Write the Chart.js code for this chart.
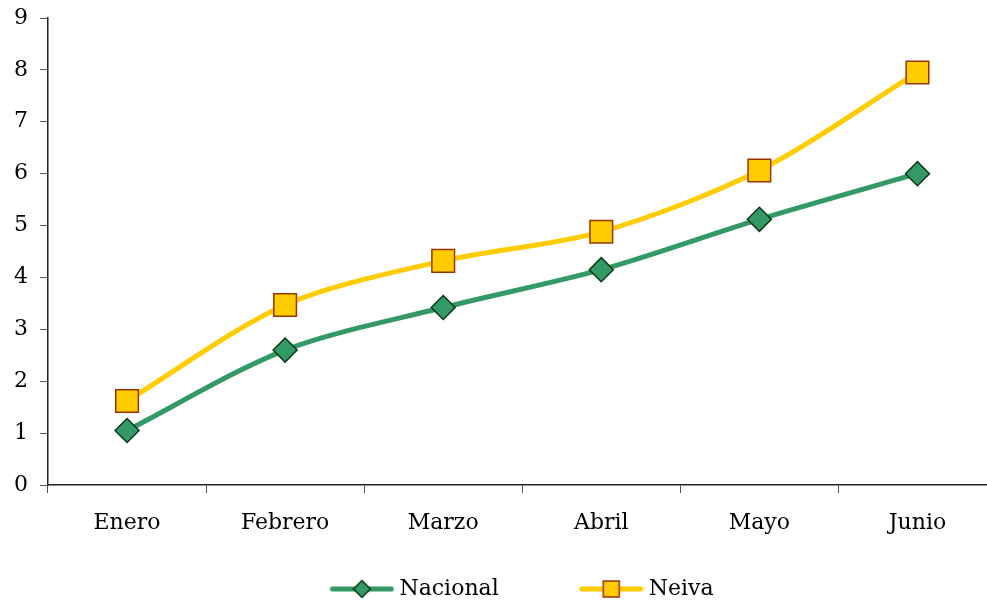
<!DOCTYPE html>
<html>
<head>
<meta charset="utf-8">
<script src="https://cdn.jsdelivr.net/npm/chart.js@4.4.0/dist/chart.umd.min.js"></script>
<style>
  html, body { margin: 0; padding: 0; background: #fff; overflow: hidden; width: 987px; height: 602px; }
  #wrap { position: relative; width: 987px; height: 602px; overflow: hidden; }
  #chart { position: absolute; left: 0; top: 0; }
</style>
</head>
<body>
<div id="wrap"><canvas id="chart" width="1014" height="602"></canvas></div>
<script>
// data
const months = ['Enero', 'Febrero', 'Marzo', 'Abril', 'Mayo', 'Junio'];
const nacional = [1.05, 2.6, 3.42, 4.15, 5.12, 6.0];
const neiva = [1.62, 3.47, 4.32, 4.88, 6.06, 7.95];
const yTicks = [0, 1, 2, 3, 4, 5, 6, 7, 8, 9];

const GREEN = '#339966';
const GREEN_EDGE = '#0b3a16';
const YELLOW = '#ffcc00';
const YELLOW_EDGE = '#993300';
const FONT = "'DejaVu Serif', serif";

// legend swatch: transparent gap on the left, then a line with the marker
const ICON_W = 133;
const ICON_H = 22;
function swatch(color, fill, edge, shape) {
  const c = document.createElement('canvas');
  c.width = ICON_W; c.height = ICON_H;
  const g = c.getContext('2d');
  const x0 = ICON_W - 62, x1 = ICON_W - 3, cx = (x0 + x1) / 2, cy = 11;
  g.strokeStyle = color;
  g.lineWidth = 5;
  g.lineCap = 'round';
  g.beginPath(); g.moveTo(x0, cy); g.lineTo(x1, cy); g.stroke();
  g.fillStyle = fill;
  g.strokeStyle = edge;
  g.lineWidth = 1.5;
  g.beginPath();
  if (shape === 'diamond') {
    g.moveTo(cx, cy - 8.5); g.lineTo(cx + 8.5, cy); g.lineTo(cx, cy + 8.5); g.lineTo(cx - 8.5, cy); g.closePath();
  } else {
    g.rect(cx - 8, cy - 8, 16, 16);
  }
  g.fill(); g.stroke();
  return c;
}

const legendIcons = [
  swatch(GREEN, GREEN, GREEN_EDGE, 'diamond'),
  swatch(YELLOW, YELLOW, YELLOW_EDGE, 'square')
];

new Chart(document.getElementById('chart'), {
  type: 'line',
  data: {
    labels: months,
    datasets: [
      {
        label: 'Nacional',
        data: nacional,
        borderColor: GREEN,
        borderWidth: 5,
        tension: 0.3,
        pointStyle: 'rectRot',
        pointRadius: 12,
        pointHoverRadius: 12,
        pointBackgroundColor: GREEN,
        pointBorderColor: GREEN_EDGE,
        pointBorderWidth: 1.5
      },
      {
        label: 'Neiva',
        data: neiva,
        borderColor: YELLOW,
        borderWidth: 5,
        tension: 0.3,
        pointStyle: 'rect',
        pointRadius: 16,
        pointHoverRadius: 16,
        pointBackgroundColor: YELLOW,
        pointBorderColor: YELLOW_EDGE,
        pointBorderWidth: 1.5
      }
    ]
  },
  options: {
    responsive: false,
    animation: false,
    devicePixelRatio: 1,
    layout: { padding: { top: 18, right: 17, left: -16, bottom: -8 } },
    plugins: {
      tooltip: { enabled: false },
      legend: {
        position: 'bottom',
        labels: {
          usePointStyle: true,
          pointStyleWidth: ICON_W - 12,
          padding: 18,
          color: '#000',
          font: { family: FONT, size: 22 },
          generateLabels: (chart) => chart.data.datasets.map((ds, i) => ({
            text: ds.label,
            pointStyle: legendIcons[i],
            fillStyle: ds.borderColor,
            strokeStyle: ds.borderColor,
            lineWidth: 0,
            fontColor: '#000',
            datasetIndex: i
          }))
        }
      }
    },
    scales: {
      x: {
        offset: true,
        grid: { offset: true, drawOnChartArea: false, tickLength: 8, color: '#555' },
        border: { color: '#222', width: 1.5 },
        ticks: { color: '#000', padding: 17, font: { family: FONT, size: 22 } },
        afterFit: (s) => { s.height = 75; s.paddingLeft = 0; s.paddingRight = 0; }
      },
      y: {
        min: 0,
        max: 9,
        afterBuildTicks: (s) => { s.ticks = yTicks.map(v => ({ value: v })); },
        grid: { drawOnChartArea: false, tickLength: 8, color: '#555' },
        border: { color: '#222', width: 1.5 },
        ticks: { color: '#000', padding: 12, font: { family: FONT, size: 22 } },
        afterFit: (s) => { s.width = 64; s.paddingTop = 0; s.paddingBottom = 0; }
      }
    }
  }
});
</script>
</body>
</html>
